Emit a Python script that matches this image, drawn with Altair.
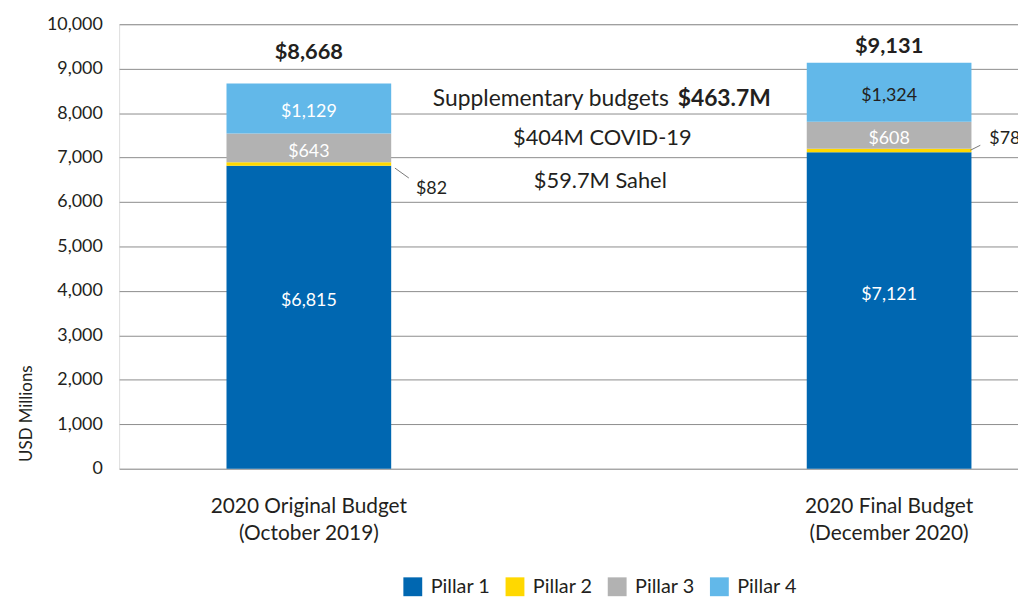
import altair as alt
import pandas as pd

budgets = ["2020 Original Budget|(October 2019)", "2020 Final Budget|(December 2020)"]
pillars = ["Pillar 1", "Pillar 2", "Pillar 3", "Pillar 4"]
original_values = [6815, 82, 643, 1129]
final_values = [7121, 78, 608, 1324]
totals = [8668, 9131]
colors = ["#0067b1", "#ffd800", "#b2b2b2", "#62b8e9"]
y_ticks = list(range(0, 10001, 1000))
notes = ["Supplementary budgets", "$463.7M", "$404M COVID-19", "$59.7M Sahel"]

FONT = "Lato"
INK = "#231f20"

rows = []
for b, vals in zip(budgets, [original_values, final_values]):
    for i, (p, v) in enumerate(zip(pillars, vals)):
        rows.append({"budget": b, "pillar": p, "order": i, "value": v, "label": f"${v:,}"})
df = pd.DataFrame(rows)
tot_df = pd.DataFrame({"budget": budgets, "total": totals, "label": [f"${t:,}" for t in totals]})

x_enc = alt.X(
    "budget:N",
    sort=budgets,
    scale=alt.Scale(paddingInner=0.7143, paddingOuter=0.1317, align=0.699),
    axis=alt.Axis(
        title=None, labelExpr="split(datum.label, '|')", labelAngle=0,
        labelFontSize=21, labelPadding=27, labelLineHeight=27, ticks=False,
        domain=False, labelFont=FONT, labelColor=INK, labelLimit=0,
    ),
)
y_scale = alt.Scale(domain=[0, 10000], nice=False)

base = alt.Chart(df)

bars = base.mark_bar(size=166).encode(
    x=x_enc,
    y=alt.Y(
        "value:Q", stack="zero", scale=y_scale,
        axis=alt.Axis(
            values=y_ticks, format=",.0f", grid=True, gridColor="#8c8c8c", gridWidth=1,
            domain=False, ticks=False, labelPadding=17, labelFontSize=18,
            labelFont=FONT, labelColor=INK, title="USD Millions", titleFontSize=17,
            titleFontWeight="normal", titleFont=FONT, titleColor=INK,
            titleX=-84, titleY=392,
        ),
    ),
    color=alt.Color(
        "pillar:N", scale=alt.Scale(domain=pillars, range=colors),
        legend=alt.Legend(
            title=None, orient="none", legendX=286, legendY=557, direction="horizontal",
            symbolType="square", symbolSize=361, symbolStrokeWidth=0, labelFontSize=20,
            labelFont=FONT, labelColor=INK, labelOffset=8, columnPadding=14,
        ),
    ),
    order=alt.Order("order:Q"),
)

stacked = base.transform_stack(
    stack="value", groupby=["budget"], as_=["y0", "y1"], sort=[alt.SortField("order")]
).transform_calculate(mid="(datum.y0 + datum.y1) / 2")


def inner_labels(filter_expr, dy):
    return stacked.transform_filter(filter_expr).mark_text(
        fontSize=18, font=FONT, dy=dy
    ).encode(
        x=alt.X("budget:N", sort=budgets),
        y=alt.Y("mid:Q", scale=y_scale),
        text="label:N",
        color=alt.condition(
            f"datum.budget == '{budgets[1]}' && datum.pillar == 'Pillar 4'",
            alt.value(INK), alt.value("white"),
        ),
    )


lab_p1 = inner_labels("datum.pillar == 'Pillar 1'", -16)
lab_p34 = inner_labels("datum.pillar == 'Pillar 3' || datum.pillar == 'Pillar 4'", 4)


def side_label(budget, dx, dy):
    return stacked.transform_filter(
        f"datum.pillar == 'Pillar 2' && datum.budget == '{budget}'"
    ).mark_text(fontSize=18, font=FONT, align="left", dx=dx, dy=dy, color=INK).encode(
        x=alt.X("budget:N", sort=budgets),
        y=alt.Y("mid:Q", scale=y_scale),
        text="label:N",
    )


side1 = side_label(budgets[0], 108, 25)
side2 = side_label(budgets[1], 101, -12)

one = pd.DataFrame({"k": [0]})
lead1 = alt.Chart(one).mark_rule(color="#777777", strokeWidth=1).encode(
    x=alt.value(278), x2=alt.value(292), y=alt.value(145), y2=alt.value(155)
)
lead2 = alt.Chart(one).mark_rule(color="#777777", strokeWidth=1).encode(
    x=alt.value(858), x2=alt.value(868), y=alt.value(127), y2=alt.value(122)
)


def total_label(i, dy):
    return alt.Chart(tot_df.iloc[[i]]).mark_text(
        fontSize=22, font=FONT, fontWeight="bold", color=INK, dy=dy
    ).encode(
        x=alt.X("budget:N", sort=budgets),
        y=alt.Y("total:Q", scale=y_scale),
        text="label:N",
    )


tot1 = total_label(0, -32)
tot2 = total_label(1, -17)


def note(txt, x, y, align, size, bold=False):
    return alt.Chart(pd.DataFrame({"t": [txt]})).mark_text(
        fontSize=size, font=FONT, color=INK, align=align,
        fontWeight="bold" if bold else "normal",
    ).encode(x=alt.value(x), y=alt.value(y), text="t:N")


n1 = note(notes[0], 554, 75, "right", 23)
n2 = note(notes[1], 563, 75, "left", 23, bold=True)
n3 = note(notes[2], 487, 115, "center", 22)
n4 = note(notes[3], 485, 158, "center", 22)

chart = alt.layer(
    bars, lab_p1, lab_p34, side1, side2, lead1, lead2, tot1, tot2, n1, n2, n3, n4
).properties(
    width=906, height=448,
    padding={"left": 112, "top": 14, "right": 0, "bottom": 133},
    autosize=alt.AutoSizeParams(type="none"),
).configure_view(stroke=None).configure(font=FONT)

chart.save("out.html", embed_options={"renderer": "svg", "actions": False})
